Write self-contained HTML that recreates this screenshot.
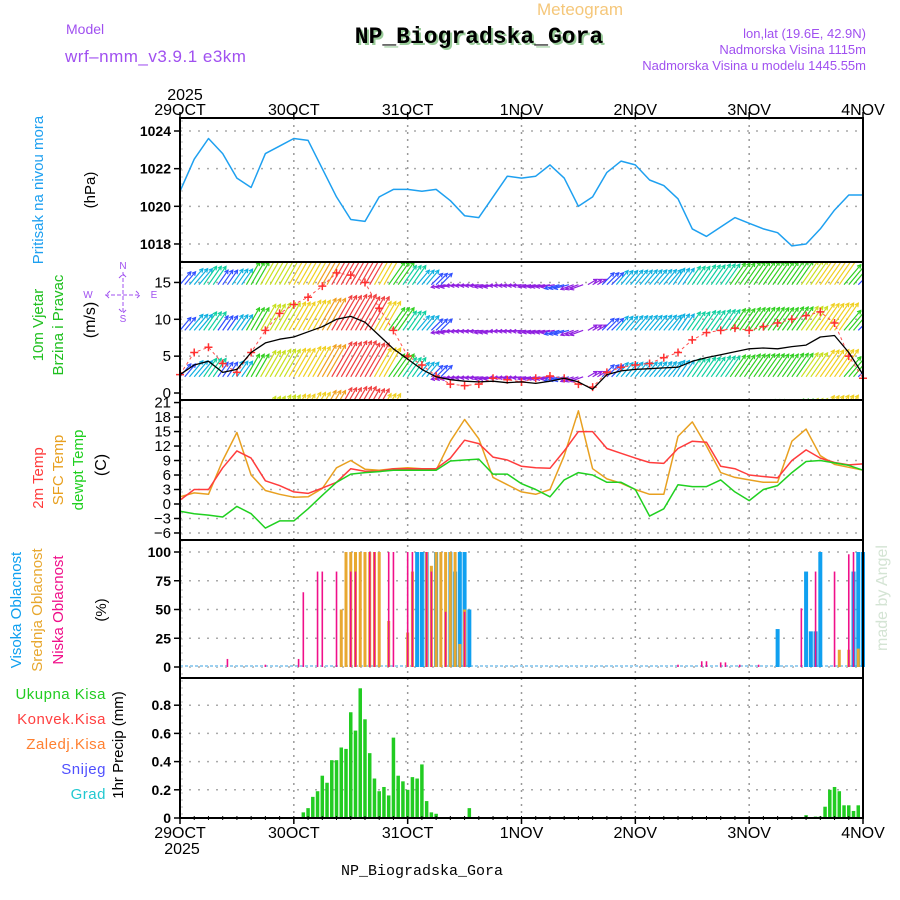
<!DOCTYPE html>
<html><head><meta charset="utf-8"><style>
html,body{margin:0;padding:0;background:#fff;}
svg{display:block;font-family:"Liberation Sans",sans-serif;}
</style></head><body>
<svg id="chart" width="900" height="900" viewBox="0 0 900 900" xmlns="http://www.w3.org/2000/svg">
<defs><clipPath id="cw"><rect x="180" y="262" width="683" height="138"/></clipPath></defs>
<text x="580" y="15" font-size="17" fill="#f5c77a" text-anchor="middle">Meteogram</text>
<text x="481" y="45" font-size="23" font-weight="bold" font-family="Liberation Mono,monospace" fill="#9c9" text-anchor="middle">NP_Biogradska_Gora</text>
<text x="479" y="43" font-size="23" font-weight="bold" font-family="Liberation Mono,monospace" fill="#000" text-anchor="middle">NP_Biogradska_Gora</text>
<text x="66" y="34" font-size="14" fill="#a050f0">Model</text>
<text x="65" y="62" font-size="17" fill="#a050f0" letter-spacing="0.5">wrf–nmm_v3.9.1 e3km</text>
<text x="866" y="38" font-size="13" fill="#a050f0" text-anchor="end">lon,lat (19.6E, 42.9N)</text>
<text x="866" y="54" font-size="13" fill="#a050f0" text-anchor="end">Nadmorska Visina 1115m</text>
<text x="866" y="70" font-size="13" fill="#a050f0" text-anchor="end">Nadmorska Visina u modelu 1445.55m</text>
<g id="g"></g>
</svg>
<script>
// ---- data (3-hourly, hour 0..144) ----
const pressure=[1020.8,1022.5,1023.6,1022.8,1021.5,1021.0,1022.8,1023.2,1023.6,1023.5,1022.0,1020.5,1019.3,1019.2,1020.5,1020.9,1020.9,1020.8,1020.9,1020.3,1019.5,1019.4,1020.5,1021.6,1021.5,1021.6,1022.2,1021.5,1020.0,1020.5,1021.8,1022.4,1022.2,1021.4,1021.1,1020.4,1018.8,1018.4,1018.9,1019.4,1019.1,1018.8,1018.6,1017.9,1018.0,1018.8,1019.8,1020.6,1020.6];
const windSpeed=[2.5,3.8,4.3,2.8,3.2,5.5,6.8,7.3,7.6,8.3,9.0,10.0,10.4,9.6,7.8,6.0,4.6,3.2,2.2,1.8,1.6,1.5,1.6,1.4,1.5,1.3,1.6,2.0,1.5,0.5,2.5,3.0,3.2,3.3,3.4,3.5,4.3,4.8,5.2,5.6,6.0,6.1,6.0,6.3,6.5,7.6,7.8,5.5,2.5];
const windGust=[2.5,5.5,6.2,4.0,2.8,5.5,8.5,10.8,12.0,13.0,14.5,16.3,16.0,15.0,11.5,8.5,5.0,3.8,2.3,1.2,1.0,1.2,2.0,1.8,1.5,2.0,2.3,2.0,1.2,0.8,2.8,3.5,3.8,4.0,4.8,5.5,7.2,8.2,8.5,8.8,8.5,9.0,9.5,10.0,10.5,11.0,9.5,5.0,2.0];
const windDir=[40,40,35,35,35,30,30,30,30,30,30,30,30,30,30,35,35,40,45,260,265,265,260,265,265,260,260,255,250,60,45,40,40,40,40,35,35,35,35,35,35,35,35,35,35,35,35,40,45];
const temp2m=[0.8,3.0,3.0,7.5,11.0,9.5,4.8,3.8,2.5,2.2,3.3,4.5,7.3,6.8,6.8,7.3,7.3,7.3,7.3,9.5,13.2,12.5,9.7,9.1,7.8,7.5,7.4,11.0,15.0,15.0,11.5,10.5,9.5,8.6,8.4,11.5,13.0,12.8,7.8,7.3,6.0,5.7,5.4,9.0,11.2,9.5,8.6,8.1,8.3];
const tempSfc=[1.5,2.3,2.0,9.0,14.8,6.0,2.8,2.0,1.4,1.5,3.2,7.5,9.0,7.2,7.0,7.3,7.5,7.3,7.0,13.0,17.5,13.5,5.5,4.0,2.5,2.0,3.0,10.0,19.3,7.3,5.2,4.3,3.0,2.0,2.0,14.0,17.0,12.0,6.5,5.5,5.0,4.5,4.5,13.0,15.5,10.0,8.2,7.6,7.0];
const dewpt=[-1.5,-2.0,-2.3,-2.7,-0.5,-2.0,-5.0,-3.5,-3.5,-1.0,1.8,4.5,6.2,6.5,6.7,7.0,7.0,7.0,7.0,8.9,9.1,9.3,6.2,6.2,4.2,3.0,1.5,5.0,6.5,6.0,4.5,4.5,3.0,-2.5,-1.0,4.0,3.6,3.6,5.0,2.5,0.7,3.0,3.8,6.5,8.8,9.0,8.5,8.0,7.0];
const highHours=[50,51,52,54,57,58,59,60,61,126,132,133,134,135,142,143,144];
const highVals=[100,100,100,100,100,83,100,100,50,33,83,31,31,100,83,100,100];
const midHours=[34,35,36,37,38,39,40,41,42,44,48,49,52,53,54,55,56,57,58,59,60,139,141,143];
const midVals=[50,100,100,100,100,100,100,100,100,40,30,83,100,88,100,100,100,100,100,20,50,15,15,16];
const lowHours=[10,18,25,26,29,30,33,36,37,40,41,44,45,48,49,52,53,56,60,105,110,111,114,115,118,122,131,134,138,141,142];
const lowVals=[7,2,7,65,83,83,83,83,83,100,100,100,100,100,100,100,83,48,48,2,5,5,4,4,2,2,51,83,83,98,100];
const precipHours=[26,27,28,29,30,31,32,33,34,35,36,37,38,39,40,41,42,43,44,45,46,47,48,49,50,51,52,53,54,61,132,134,135,136,137,138,139,140,141,142,143];
const precipVals=[0.04,0.07,0.15,0.19,0.30,0.25,0.41,0.41,0.50,0.49,0.75,0.62,0.92,0.70,0.46,0.28,0.19,0.22,0.16,0.57,0.30,0.26,0.20,0.29,0.28,0.38,0.12,0.04,0.03,0.07,0.02,0.01,0.01,0.08,0.20,0.22,0.19,0.09,0.09,0.05,0.09];
const dayLabels=["29OCT","30OCT","31OCT","1NOV","2NOV","3NOV","4NOV"];
const pTicks=[1018,1020,1022,1024];
const wTicks=[0,5,10,15];
const tTicks=[-6,-3,0,3,6,9,12,15,18,21];
const cTicks=[0,25,50,75,100];
const rTicks=["0","0.2","0.4","0.6","0.8"];

const NS="http://www.w3.org/2000/svg";
const G=document.getElementById('g');
const X0=180,X1=863;
const xh=h=>X0+h*(X1-X0)/144;
const yP=v=>131+(1024-v)*18.83;
const yW=v=>393-v*7.37;
const yT=v=>504-v*4.83;
const yC=v=>667-v*1.15;
const yR=v=>818-v*141;
function el(t,a,p){const e=document.createElementNS(NS,t);for(const k in a)e.setAttribute(k,a[k]);(p||G).appendChild(e);return e;}
function txt(s,a,p){const e=el('text',a,p);e.textContent=s;return e;}

const panels=[[118,262,'pressure-panel'],[262,400,'wind-panel'],[400,540,'temperature-panel'],[540,678,'cloud-panel'],[678,818,'precip-panel']];
for(let d=1;d<6;d++){const l=el('line',{x1:xh(d*24),x2:xh(d*24),y1:118,y2:818,stroke:'#999','stroke-width':1.5,'stroke-dasharray':'2,5'});

}
function hgrid(y){const l=el('line',{x1:X0,x2:X1,y1:y,y2:y,stroke:'#aaa','stroke-width':1.5,'stroke-dasharray':'2,7'});

}
function ytick(y,s,bold){el('line',{x1:174,x2:180,y1:y,y2:y,stroke:'#000','stroke-width':1.5});
const t=txt(s,{x:171,y:y+5,'font-size':bold?14:15,'font-weight':bold?'bold':'normal','text-anchor':'end',fill:'#000'});

}
pTicks.forEach(v=>{hgrid(yP(v));ytick(yP(v),String(v),true);});
wTicks.forEach(v=>{if(v>0)hgrid(yW(v));ytick(yW(v),String(v));});
tTicks.forEach(v=>{if(v<21)hgrid(yT(v));ytick(yT(v),v<0?'−'+(-v):String(v));});
cTicks.forEach(v=>{hgrid(yC(v));ytick(yC(v),String(v),true);});
rTicks.forEach(v=>{if(+v>0)hgrid(yR(+v));ytick(yR(+v),v,true);});
for(let y=121;y<818;y+=7)el('line',{x1:180,x2:183,y1:y,y2:y,stroke:'#bbb','stroke-width':1});

function poly(arr,fy,color,name,w){const pts=arr.map((v,i)=>xh(i*3).toFixed(1)+','+fy(v).toFixed(1)).join(' ');
const p=el('polyline',{points:pts,fill:'none',stroke:color,'stroke-width':w||1.5,'stroke-linejoin':'round'});

return p;}
poly(pressure,yP,'#1ea0f0','pressure-line');

// wind arrows
const wg=el('g',{'clip-path':'url(#cw)'});
function spdColor(s){if(s<2)return'#9020e0';if(s<3)return'#3050ff';if(s<4)return'#10b0e0';if(s<5.5)return'#10d0a0';if(s<6.5)return'#30d020';if(s<7.5)return'#c8e020';if(s<8.5)return'#f0d020';if(s<9.5)return'#f0a020';return'#f04040';}
const rowBase=[-4,2.2,8.5,14.7];
rowBase.forEach(b=>{for(let h=0;h<=144;h++){const k=Math.round(h/3);const s=windSpeed[k],a=windDir[k]*Math.PI/180;
const L=9+s*3.1;const x=xh(h),y=yW(b);const x2=x+L*Math.sin(a),y2=y-L*Math.cos(a);
const ln=el('line',{x1:x,y1:y,x2:x2,y2:y2,stroke:spdColor(s),'stroke-width':1.2},wg);


const ha=Math.atan2(y2-y,x2-x);
el('polyline',{points:`${x2-4*Math.cos(ha-0.5)},${y2-4*Math.sin(ha-0.5)} ${x2},${y2} ${x2-4*Math.cos(ha+0.5)},${y2-4*Math.sin(ha+0.5)}`,fill:'none',stroke:spdColor(s),'stroke-width':1.2},wg);}});
const gl=poly(windGust,yW,'#ff5050','wind-gust-line',1);gl.setAttribute('stroke-dasharray','3,3');
windGust.forEach((v,i)=>{const x=xh(i*3),y=yW(v);const c=el('path',{d:`M${x-4},${y}h8M${x},${y-4}v8`,stroke:'#ff3030','stroke-width':1.5});

});
poly(windSpeed,yW,'#000','wind-speed-line',1.3);

poly(tempSfc,yT,'#e8a020','sfc-temp-line');
poly(temp2m,yT,'#ff3c3c','temp-2m-line');
poly(dewpt,yT,'#20d020','dewpoint-line');

el('line',{x1:X0,x2:X1,y1:yC(0)-1,y2:yC(0)-1,stroke:'#9cd0f0','stroke-width':2,'stroke-dasharray':'3,2'});
function bars(hs,vs,fy,color,w,name){hs.forEach((h,i)=>{const x=xh(h),y=fy(vs[i]),y0=fy(0);
const r=el('rect',{x:x-w/2,y:y,width:w,height:Math.max(0.5,y0-y),fill:color});

});}
bars(highHours,highVals,yC,'#10a0f0',4,'high-cloud-bar');
bars(midHours,midVals,yC,'#e8a830',3,'mid-cloud-bar');
bars(lowHours,lowVals,yC,'#f0108a',1.6,'low-cloud-bar');
bars(precipHours,precipVals,yR,'#22cc22',3.5,'precip-bar');

panels.forEach(p=>{const r=el('rect',{x:X0,y:p[0],width:X1-X0,height:p[1]-p[0],fill:'none',stroke:'#000','stroke-width':2});

});
dayLabels.forEach((s,i)=>{const x=xh(i*24);
el('line',{x1:x,x2:x,y1:112,y2:118,stroke:'#000','stroke-width':1.5});
el('line',{x1:x,x2:x,y1:818,y2:824,stroke:'#000','stroke-width':1.5});
const t=txt(s,{x:x,y:115,'font-size':16,'text-anchor':'middle',fill:'#000'});


const b=txt(s,{x:x,y:838,'font-size':16,'text-anchor':'middle',fill:'#000'});

});
for(let h=3;h<144;h+=3){el('line',{x1:xh(h),x2:xh(h),y1:816,y2:820,stroke:'#000','stroke-width':1});}
txt('2025',{x:185,y:100,'font-size':16,'text-anchor':'middle',fill:'#000'});
txt('2025',{x:182,y:854,'font-size':16,'text-anchor':'middle',fill:'#000'});
const bt=txt('NP_Biogradska_Gora',{x:422,y:875,'font-size':15,'text-anchor':'middle','font-family':'Liberation Mono,monospace',fill:'#000'});



function vt(s,x,y,c,fs,name){const t=txt(s,{x:x,y:y,'font-size':fs||15,fill:c,'text-anchor':'middle',transform:`rotate(-90 ${x} ${y})`});

}
vt('Pritisak na nivou mora',43,190,'#1ea0f0',15,'pressure-title');
vt('(hPa)',95,190,'#000',15,'pressure-unit');
vt('10m Vjetar',43,325,'#20c020',15,'wind-title');
vt('Brzina i Pravac',63,325,'#20c020',15,'wind-subtitle');
vt('(m/s)',95,320,'#000',16,'wind-unit');
vt('2m Temp',43,478,'#ff3c3c',15,'temp2m-title');
vt('SFC Temp',63,470,'#e8a020',15,'sfc-temp-title');
vt('dewpt Temp',83,470,'#20d020',15,'dewpt-title');
vt('(C)',106,465,'#000',16,'temp-unit');
vt('Visoka Oblacnost',21,610,'#10a0f0',15,'high-cloud-title');
vt('Srednja Oblacnost',42,610,'#e8a830',15,'mid-cloud-title');
vt('Niska Oblacnost',63,610,'#f0108a',15,'low-cloud-title');
vt('(%)',106,610,'#000',15,'cloud-unit');
vt('1hr Precip (mm)',123,745,'#000',15,'precip-unit');
vt('made by Angel',887,598,'#d4e4d4',16,'watermark');
// compass
const cg=el('g',{fill:'#a050f0','font-size':10,'text-anchor':'middle'});


txt('N',{x:123,y:269},cg);txt('S',{x:123,y:322},cg);txt('W',{x:88,y:298},cg);txt('E',{x:154,y:298},cg);
el('path',{d:'M123,272v40M105,295h36M119,278l4,-4l4,4M119,309l4,4l4,-4M110,291l-4,4l4,4M136,291l4,4l-4,4',stroke:'#a050f0','stroke-width':1,fill:'none','stroke-dasharray':'4,2'});
const leg=[['Ukupna Kisa','#22cc22',699],['Konvek.Kisa','#ff4040',724],['Zaledj.Kisa','#ff8030',749],['Snijeg','#5050ff',774],['Grad','#20c8d0',799]];
leg.forEach(l=>{const t=txt(l[0],{x:106,y:l[2],'font-size':15,'text-anchor':'end',fill:l[1],'letter-spacing':'0.5'});

});
</script>
</body></html>
